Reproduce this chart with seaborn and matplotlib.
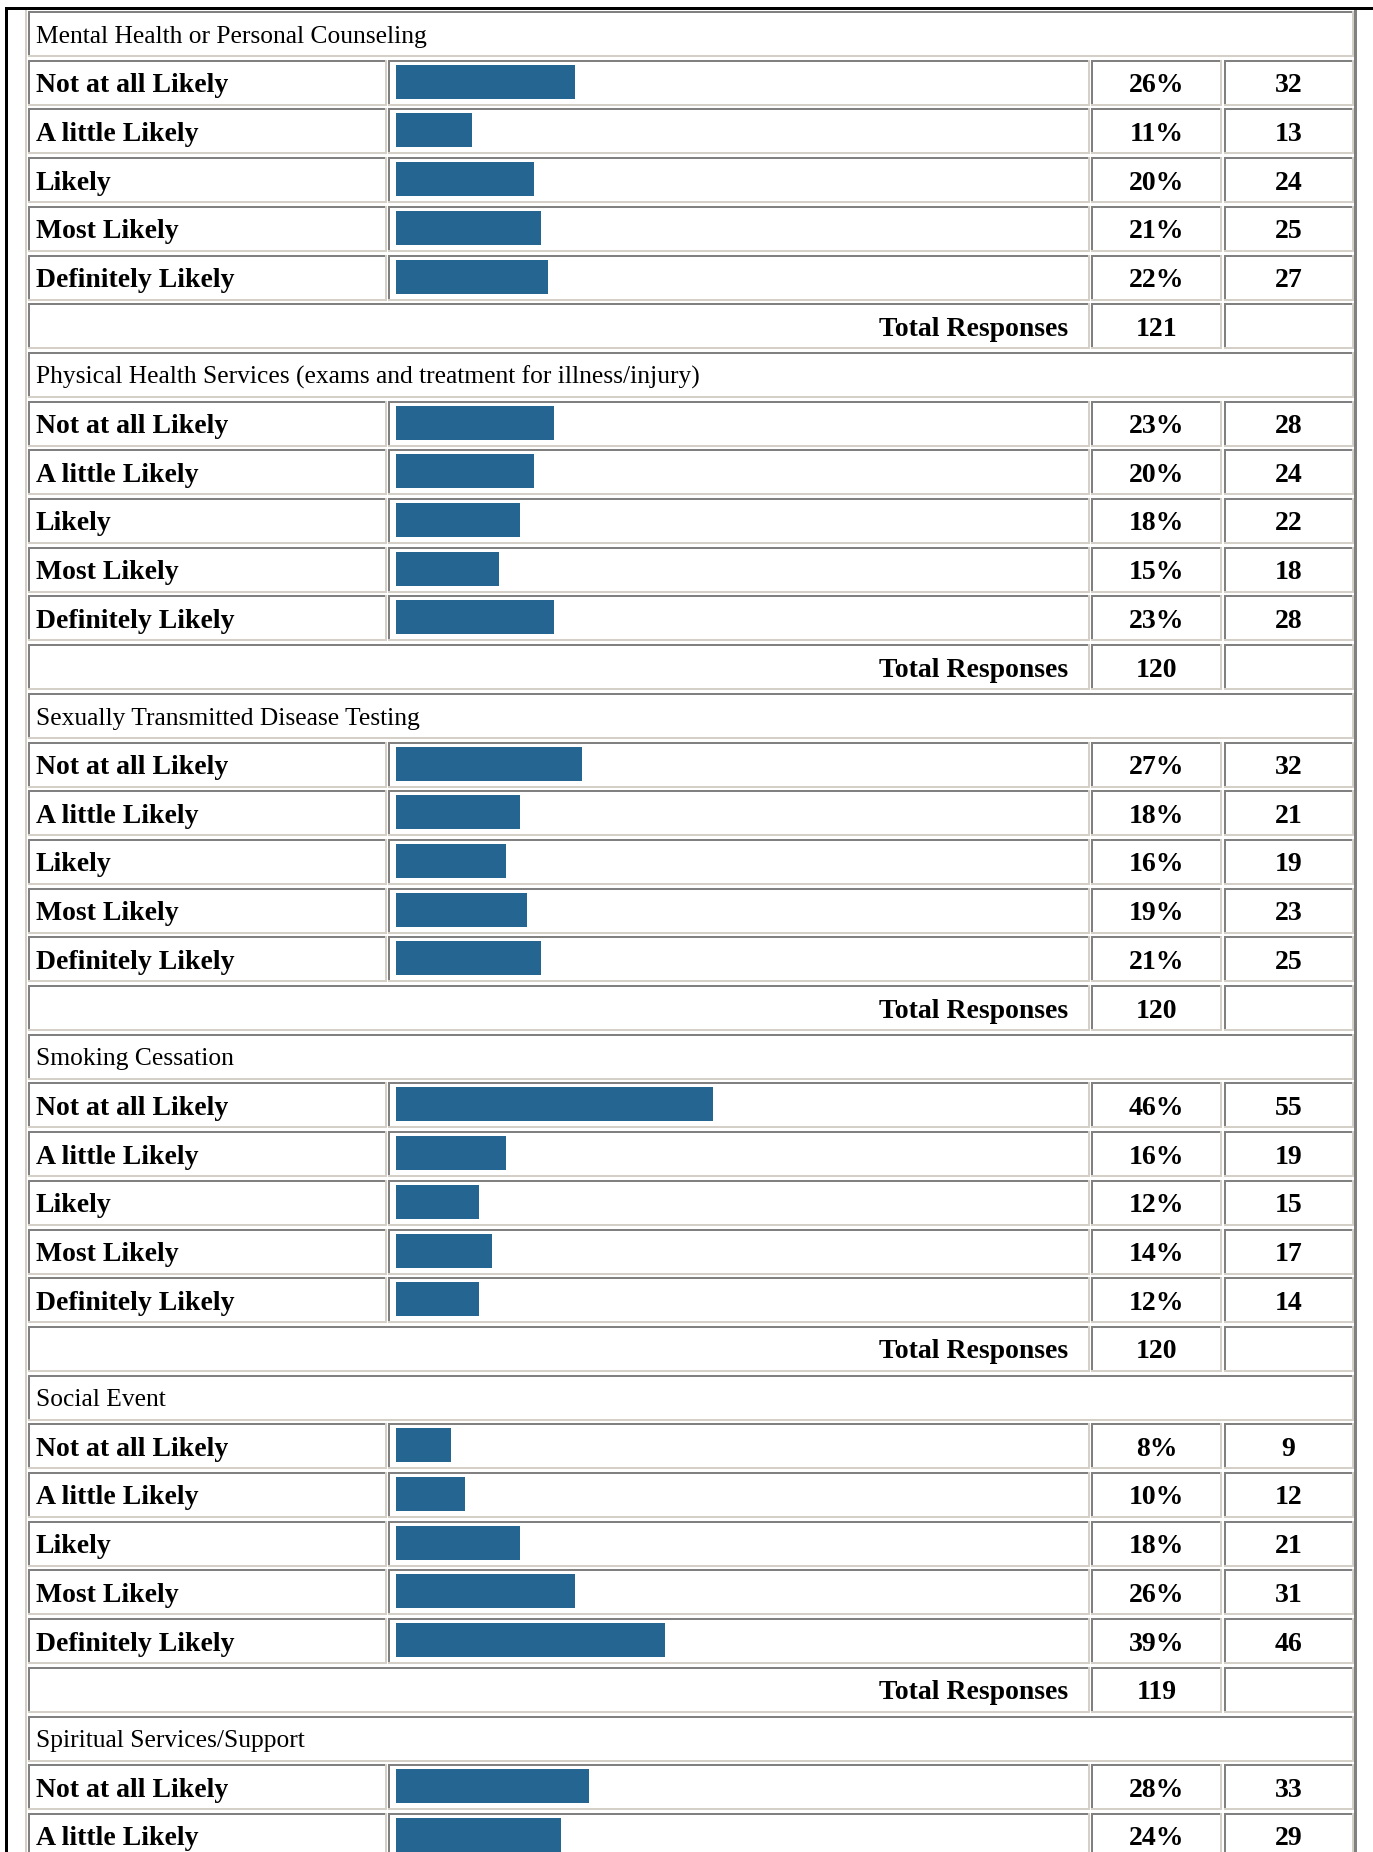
import matplotlib
matplotlib.use("Agg")
import matplotlib.pyplot as plt
from matplotlib.patches import Rectangle
import pandas as pd
import seaborn as sns

# ---- survey data -------------------------------------------------------
services = [
    "Mental Health or Personal Counseling",
    "Physical Health Services (exams and treatment for illness/injury)",
    "Sexually Transmitted Disease Testing",
    "Smoking Cessation",
    "Social Event",
    "Spiritual Services/Support",
]
levels = ["Not at all Likely", "A little Likely", "Likely", "Most Likely", "Definitely Likely"]

mental_pct = [26, 11, 20, 21, 22]
mental_n = [32, 13, 24, 25, 27]
physical_pct = [23, 20, 18, 15, 23]
physical_n = [28, 24, 22, 18, 28]
std_pct = [27, 18, 16, 19, 21]
std_n = [32, 21, 19, 23, 25]
smoking_pct = [46, 16, 12, 14, 12]
smoking_n = [55, 19, 15, 17, 14]
social_pct = [8, 10, 18, 26, 39]
social_n = [9, 12, 21, 31, 46]
spiritual_pct = [28, 24]
spiritual_n = [33, 29]

totals = [121, 120, 120, 120, 119, None]

pct_by_service = [mental_pct, physical_pct, std_pct, smoking_pct, social_pct, spiritual_pct]
n_by_service = [mental_n, physical_n, std_n, smoking_n, social_n, spiritual_n]

# ---- page geometry (pixels) -------------------------------------------
W, H = 1373, 1852
ROW0, PITCH, CELL_H = 11.0, 48.7, 46.0
BAR_OFF = 22.0            # bar centre below the row top
BAR_H = 34.0
LABEL_X0, LABEL_X1 = 28.0, 386.5
BAR_X0, BAR_X1 = 388.0, 1090.0
PCT_X0, PCT_X1 = 1091.0, 1222.0
CNT_X0, CNT_X1 = 1223.5, 1353.7
SCALE_X0, SCALE_X1 = 396.0, 1085.0   # 0% .. 100% of the bar column

DARK = "#808080"
LIGHT = "#d4d0c8"
BAR_COLOR = "#256591"
SERIF = ["Liberation Serif", "DejaVu Serif"]
BOLD_SIZE = 20.0
REG_SIZE = 18.4

# ---- flatten into table rows -------------------------------------------
rows = []
for s, name in enumerate(services):
    rows.append(dict(kind="header", text=name))
    for lvl, p, n in zip(levels, pct_by_service[s], n_by_service[s]):
        rows.append(dict(kind="data", text=lvl, pct=p, n=n))
    if totals[s] is not None:
        rows.append(dict(kind="total", total=totals[s]))

fig = plt.figure(figsize=(W / 100, H / 100), dpi=100)
fig.patch.set_facecolor("white")
ax = fig.add_axes([0, 0, 1, 1])
ax.set_xlim(0, W)
ax.set_ylim(H, 0)
ax.axis("off")


def rect(x0, y0, w, h, color):
    ax.add_patch(Rectangle((x0, y0), w, h, facecolor=color, edgecolor="none", lw=0))


def cell(x0, x1, y0, y1):
    # inset border: dark top/left, light bottom/right
    rect(x0, y0, x1 - x0, 2.0, DARK)
    rect(x0, y0, 2.0, y1 - y0, DARK)
    rect(x0, y1 - 2.0, x1 - x0, 2.0, LIGHT)
    rect(x1 - 2.0, y0, 2.0, y1 - y0, LIGHT)


def bold(x, y, s, ha):
    ax.text(x, y, s, ha=ha, va="baseline", family=SERIF, fontweight="bold",
            fontsize=BOLD_SIZE, color="black")


# outer frame and table border
rect(5, 7, W - 5, 3, "black")
rect(5, 7, 3, H - 7, "black")
rect(25, 10, 2.3, H - 10, LIGHT)
rect(1354.3, 10, 2.4, H - 10, DARK)

bar_rows = []
for i, r in enumerate(rows):
    top = ROW0 + i * PITCH
    bot = top + CELL_H
    base = top + 32.5
    if r["kind"] == "header":
        cell(LABEL_X0, CNT_X1, top, bot)
        ax.text(36, top + 31.7, r["text"], ha="left", va="baseline", family=SERIF,
                fontsize=REG_SIZE, color="black")
    elif r["kind"] == "data":
        cell(LABEL_X0, LABEL_X1, top, bot)
        cell(BAR_X0, BAR_X1, top, bot)
        cell(PCT_X0, PCT_X1, top, bot)
        cell(CNT_X0, CNT_X1, top, bot)
        bold(36, base, r["text"], "left")
        bold((PCT_X0 + PCT_X1) / 2, base, f"{r['pct']}%", "center")
        bold((CNT_X0 + CNT_X1) / 2, base, f"{r['n']}", "center")
        bar_rows.append(dict(row=float(i), pct=r["pct"]))
    else:
        cell(LABEL_X0, BAR_X1, top, bot)
        cell(PCT_X0, PCT_X1, top, bot)
        cell(CNT_X0, CNT_X1, top, bot)
        bold(1068, base, "Total Responses", "right")
        bold((PCT_X0 + PCT_X1) / 2, base, f"{r['total']}", "center")

# ---- bars: percentage scale laid over the bar column ---------------------
bars = pd.DataFrame(bar_rows)
bax = fig.add_axes([SCALE_X0 / W, 0, (SCALE_X1 - SCALE_X0) / W, 1])
bax.patch.set_alpha(0)
sns.barplot(data=bars, x="pct", y="row", orient="h", native_scale=True,
            width=BAR_H / PITCH, color=BAR_COLOR, saturation=1,
            errorbar=None, linewidth=0, ax=bax)
bax.set_xlim(0, 100)
bax.set_ylim((H - ROW0 - BAR_OFF) / PITCH, (0 - ROW0 - BAR_OFF) / PITCH)
bax.axis("off")

fig.savefig("out.png", dpi=100, facecolor="white")
